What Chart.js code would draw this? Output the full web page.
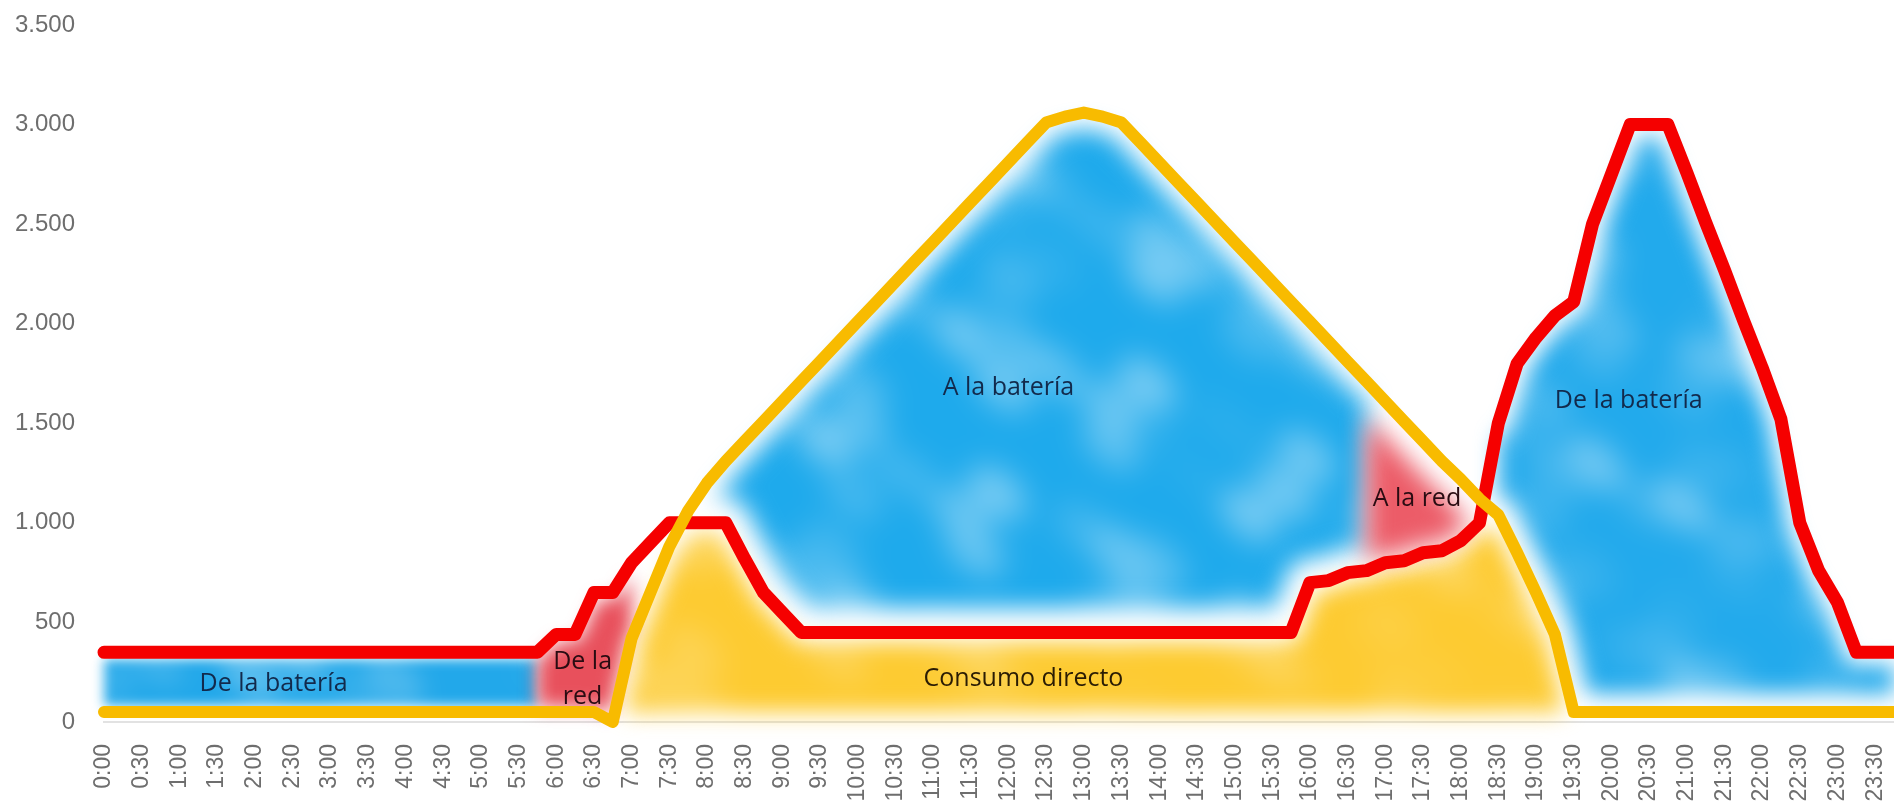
<!DOCTYPE html>
<html lang="es">
<head>
<meta charset="utf-8">
<title>Flujo de energía a lo largo del día</title>
<script src="https://cdn.jsdelivr.net/npm/chart.js@4.4.1/dist/chart.umd.min.js"></script>
<style>
  html, body { margin: 0; padding: 0; background: #ffffff; overflow: hidden; }
  #wrap { position: relative; width: 1894px; height: 802px; }
</style>
</head>
<body>
<div id="wrap"><canvas id="grafico"></canvas></div>
<script>
// Horas del día, cada cuarto de hora
const horas = [
  '0:00','0:15','0:30','0:45','1:00','1:15','1:30','1:45','2:00','2:15','2:30','2:45',
  '3:00','3:15','3:30','3:45','4:00','4:15','4:30','4:45','5:00','5:15','5:30','5:45',
  '6:00','6:15','6:30','6:45','7:00','7:15','7:30','7:45','8:00','8:15','8:30','8:45',
  '9:00','9:15','9:30','9:45','10:00','10:15','10:30','10:45','11:00','11:15','11:30','11:45',
  '12:00','12:15','12:30','12:45','13:00','13:15','13:30','13:45','14:00','14:15','14:30','14:45',
  '15:00','15:15','15:30','15:45','16:00','16:15','16:30','16:45','17:00','17:15','17:30','17:45',
  '18:00','18:15','18:30','18:45','19:00','19:15','19:30','19:45','20:00','20:15','20:30','20:45',
  '21:00','21:15','21:30','21:45','22:00','22:15','22:30','22:45','23:00','23:15','23:30','23:45'
];

// Producción solar (W)
const produccion = [
  50, 50, 50, 50, 50, 50, 50, 50, 50, 50, 50, 50,
  50, 50, 50, 50, 50, 50, 50, 50, 50, 50, 50, 50,
  50, 50, 50, 0, 420, 650, 880, 1060, 1200, 1310, 1410, 1510,
  1610, 1710, 1810, 1910, 2010, 2110, 2210, 2310, 2410, 2510, 2610, 2710,
  2810, 2910, 3010, 3040, 3060, 3040, 3010, 2910, 2810, 2710, 2610, 2510,
  2410, 2310, 2210, 2110, 2010, 1910, 1810, 1710, 1610, 1510, 1410, 1310,
  1220, 1120, 1040, 850, 650, 440, 50, 50, 50, 50, 50, 50,
  50, 50, 50, 50, 50, 50, 50, 50, 50, 50, 50, 50
];

// Consumo de la vivienda (W)
const consumo = [
  350, 350, 350, 350, 350, 350, 350, 350, 350, 350, 350, 350,
  350, 350, 350, 350, 350, 350, 350, 350, 350, 350, 350, 350,
  440, 440, 650, 650, 800, 900, 1000, 1000, 1000, 1000, 820, 650,
  550, 450, 450, 450, 450, 450, 450, 450, 450, 450, 450, 450,
  450, 450, 450, 450, 450, 450, 450, 450, 450, 450, 450, 450,
  450, 450, 450, 450, 700, 710, 750, 760, 800, 810, 850, 860,
  910, 1000, 1500, 1800, 1930, 2040, 2110, 2500, 2750, 3000, 3000, 3000,
  2760, 2510, 2270, 2020, 1780, 1520, 1000, 760, 600, 350, 350, 350
];

// Marcas del eje vertical
const marcasY = [0, 500, 1000, 1500, 2000, 2500, 3000, 3500];

// Zonas pintadas entre las curvas
const zonas = [
  { arriba: 'consumo',    abajo: 'produccion', desde: '0:00',  hasta: '5:45',  color: '#22a8ea', margen: [7, 6],   difuminado: 6,  moteado: 0.25 },
  { arriba: 'consumo',    abajo: 'produccion', desde: '5:45',  hasta: '7:00',  color: '#e8505c', margen: [7, 5],   difuminado: 9,  moteado: 0 },
  { arriba: 'minimo',     abajo: 'cero',       desde: '6:45',  hasta: '19:30', color: '#fdcb31', margen: [10, 10], difuminado: 11, moteado: 0.22 },
  { arriba: 'produccion', abajo: 'consumo',    desde: '8:00',  hasta: '16:45', color: '#1eaaec', margen: [16, 24], difuminado: 12, moteado: 0.4 },
  { arriba: 'produccion', abajo: 'consumo',    desde: '16:45', hasta: '18:15', color: '#ec5c68', margen: [24, 8],  difuminado: 12, moteado: 0 },
  { arriba: 'consumo',    abajo: 'produccion', desde: '18:30', hasta: '23:45', color: '#22aaec', margen: [13, 18], difuminado: 11, moteado: 0.35 }
];

// Rótulos de cada zona (hora decimal, valor en W)
const rotulos = [
  { texto: ['De la batería'],   hora: 2.25,  valor: 190,  color: '#122a4c' },
  { texto: ['De la', 'red'],    hora: 6.35,  valor: 213,  color: '#2a0c12' },
  { texto: ['Consumo directo'], hora: 12.2,  valor: 216,  color: '#2a1c04' },
  { texto: ['A la batería'],    hora: 12.0,  valor: 1678, color: '#122a4c' },
  { texto: ['A la red'],        hora: 17.42, valor: 1121, color: '#2a0c12' },
  { texto: ['De la batería'],   hora: 20.23, valor: 1613, color: '#122a4c' }
];

// Textura de acuarela: manchas claras suaves
function texturaAcuarela(w, h) {
  const t = document.createElement('canvas');
  t.width = w; t.height = h;
  const c = t.getContext('2d');
  for (let y = 0; y < h; y += 36) {
    for (let x = 0; x < w; x += 36) {
      const v = Math.sin(x * 0.013 + y * 0.021) * Math.cos(x * 0.031 - y * 0.017)
              + 0.5 * Math.sin(x * 0.047 + y * 0.059);
      if (v > 0.3) {
        c.fillStyle = 'rgba(255,255,255,' + Math.min(1, (v - 0.3) * 1.4) + ')';
        c.beginPath();
        c.ellipse(x + 12 * Math.sin(y * 0.11), y + 12 * Math.cos(x * 0.09), 34, 20, 0.7, 0, Math.PI * 2);
        c.fill();
      }
    }
  }
  return t;
}

const pintura = {
  id: 'pintura',
  beforeDatasetsDraw(chart) {
    const ctx = chart.ctx;
    const escalaY = chart.scales.y;
    const W = chart.canvas.width, H = chart.canvas.height;
    const textura = texturaAcuarela(W, H);
    const serie = {
      produccion: chart.getDatasetMeta(0).data,
      consumo: chart.getDatasetMeta(1).data
    };
    const y0 = escalaY.getPixelForValue(0);
    const borde = (nombre, i) => {
      if (nombre === 'cero') return y0;
      if (nombre === 'minimo') return Math.max(serie.produccion[i].y, serie.consumo[i].y);
      return serie[nombre][i].y;
    };
    for (const z of zonas) {
      const a = horas.indexOf(z.desde), b = horas.indexOf(z.hasta);
      const sup = [], inf = [];
      for (let i = a; i <= b; i++) {
        const px = serie.produccion[i].x;
        sup.push([px, borde(z.arriba, i)]);
        inf.push([px, borde(z.abajo, i)]);
      }
      const capa = document.createElement('canvas');
      capa.width = W;
      capa.height = H;
      const c = capa.getContext('2d');
      c.beginPath();
      sup.forEach(([px, py], k) => k ? c.lineTo(px, py) : c.moveTo(px, py));
      for (let k = inf.length - 1; k >= 0; k--) c.lineTo(inf[k][0], inf[k][1]);
      c.closePath();
      c.fillStyle = z.color;
      c.fill();
      if (z.moteado > 0) {
        c.save();
        c.globalCompositeOperation = 'source-atop';
        c.globalAlpha = z.moteado;
        c.filter = 'blur(10px)';
        c.drawImage(textura, 0, 0);
        c.restore();
      }
      // recorta un margen junto a las curvas
      c.globalCompositeOperation = 'destination-out';
      c.lineJoin = 'round';
      c.lineCap = 'round';
      const recorte = (pts, w) => {
        if (w <= 0) return;
        c.lineWidth = 2 * w;
        c.beginPath();
        pts.forEach(([px, py], k) => k ? c.lineTo(px, py) : c.moveTo(px, py));
        c.stroke();
      };
      recorte(sup, z.margen[0]);
      recorte(inf, z.margen[1]);
      ctx.save();
      ctx.filter = 'blur(' + z.difuminado + 'px)';
      ctx.drawImage(capa, 0, 0);
      ctx.restore();
    }
  },
  afterDatasetsDraw(chart) {
    const ctx = chart.ctx;
    const escalaX = chart.scales.x, escalaY = chart.scales.y;
    ctx.save();
    ctx.font = '25px "Open Sans", "Noto Sans", sans-serif';
    ctx.textAlign = 'center';
    ctx.textBaseline = 'middle';
    for (const r of rotulos) {
      const px = escalaX.getPixelForValue(r.hora * 4);
      const py = escalaY.getPixelForValue(r.valor);
      const n = r.texto.length;
      ctx.fillStyle = r.color;
      r.texto.forEach((t, k) => ctx.fillText(t, px, py + (k - (n - 1) / 2) * 35));
    }
    ctx.restore();
  }
};

Chart.defaults.font.family = '"Liberation Sans", Arial, sans-serif';

new Chart(document.getElementById('grafico'), {
  type: 'line',
  data: {
    labels: horas,
    datasets: [
      {
        label: 'Producción',
        data: produccion,
        borderColor: '#f8bb00',
        borderWidth: 12,
        order: 0
      },
      {
        label: 'Consumo',
        data: consumo,
        borderColor: '#f50000',
        borderWidth: 13,
        order: 1
      }
    ]
  },
  options: {
    responsive: true,
    maintainAspectRatio: false,
    animation: false,
    events: [],
    layout: { padding: { top: 25, right: 0, bottom: 0, left: 0 } },
    elements: {
      point: { radius: 0 },
      line: { tension: 0, fill: false, borderCapStyle: 'round', borderJoinStyle: 'round' }
    },
    datasets: { line: { clip: false } },
    plugins: { legend: { display: false }, tooltip: { enabled: false } },
    scales: {
      x: {
        offset: false,
        grid: { display: false },
        border: { display: true, color: '#e2e2e2', width: 2 },
        ticks: {
          autoSkip: false,
          minRotation: 90,
          maxRotation: 90,
          padding: 14,
          color: '#6e6e6e',
          font: { size: 23 },
          callback: (v, i) => (horas[i].endsWith(':00') || horas[i].endsWith(':30')) ? horas[i] : ''
        },
        afterFit: (s) => { s.height = 80; s.paddingLeft = 0; s.paddingRight = 0; }
      },
      y: {
        min: 0,
        max: 3500,
        grid: { display: false, drawTicks: false },
        border: { display: false },
        afterBuildTicks: (s) => { s.ticks = marcasY.map(v => ({ value: v })); },
        ticks: {
          padding: 29,
          color: '#6e6e6e',
          font: { size: 24 },
          callback: (v) => v.toLocaleString('de-DE')
        },
        afterFit: (s) => { s.width = 104; s.paddingTop = 0; s.paddingBottom = 0; }
      }
    }
  },
  plugins: [pintura]
});
</script>
</body>
</html>
